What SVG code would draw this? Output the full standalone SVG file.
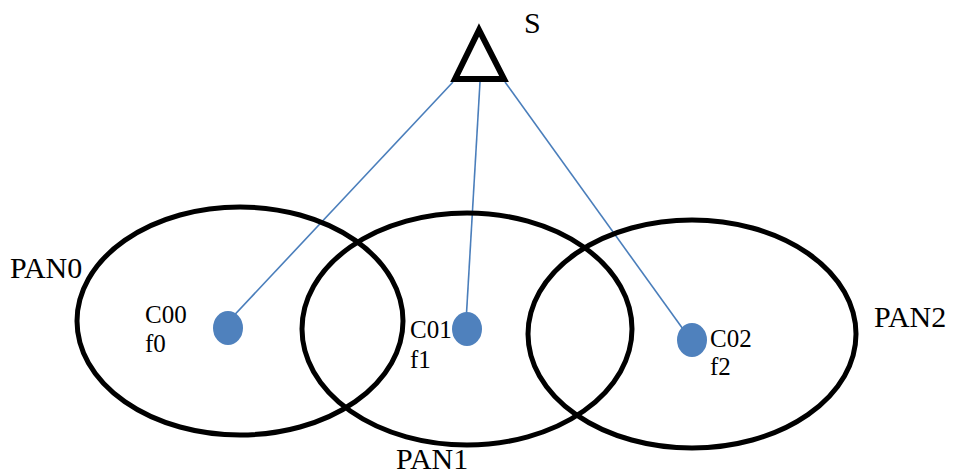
<svg xmlns="http://www.w3.org/2000/svg" width="956" height="476" viewBox="0 0 956 476">
<style>
.pan{fill:none;stroke:#000;stroke-width:5}
.dot{fill:#4f81bd}
.ln{stroke:#4a7ebb;stroke-width:1.6;fill:none}
.t{font-family:"Liberation Serif",serif;fill:#000}
.big{font-size:30px}
.sm{font-size:25px}
</style>
<rect width="956" height="476" fill="#fff"/>
<g id="connectors">
<line class="ln" x1="453" y1="82" x2="226" y2="324"/>
<line class="ln" x1="480" y1="82" x2="466" y2="322"/>
<line class="ln" x1="505" y1="82" x2="688" y2="336"/>
</g>
<g id="PAN0"><ellipse class="pan" cx="240" cy="321" rx="163" ry="114"/><text class="t big" x="10" y="278">PAN0</text></g>
<g id="PAN1"><ellipse class="pan" cx="467" cy="329" rx="165" ry="116"/><text class="t big" x="396" y="469">PAN1</text></g>
<g id="PAN2"><ellipse class="pan" cx="692" cy="334" rx="164" ry="114"/><text class="t big" x="874" y="327">PAN2</text></g>
<g id="S"><polygon points="479,30 455,79 504,79" fill="none" stroke="#000" stroke-width="6" stroke-linejoin="miter"/><text class="t big" x="524" y="33">S</text></g>
<g id="C00"><ellipse class="dot" cx="228" cy="328" rx="15" ry="17"/><text class="t sm" x="145" y="323">C00</text><text class="t sm" x="145" y="352">f0</text></g>
<g id="C01"><ellipse class="dot" cx="467" cy="329" rx="15" ry="17"/><text class="t sm" x="410" y="338">C01</text><text class="t sm" x="410" y="368">f1</text></g>
<g id="C02"><ellipse class="dot" cx="692" cy="340" rx="15" ry="17"/><text class="t sm" x="710" y="347">C02</text><text class="t sm" x="710" y="375">f2</text></g>
</svg>
